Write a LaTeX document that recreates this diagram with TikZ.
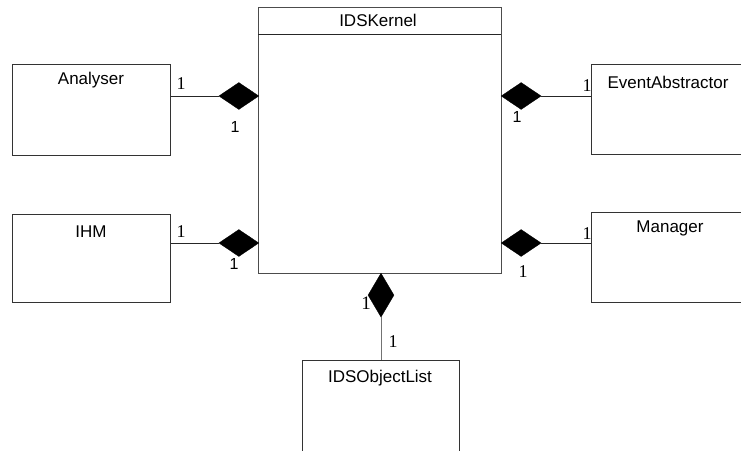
\documentclass[tikz,border=0pt]{standalone}
\usepackage{fontspec}
\setmainfont{Liberation Sans}
\newfontfamily\serifone{Liberation Serif}
\usetikzlibrary{shapes.geometric}
\begin{document}
\begin{tikzpicture}[x=1pt,y=-1pt,
  box/.style={draw=black!80, line width=0.9pt, rectangle, inner sep=0pt, anchor=north west},
  title/.style={font=\fontsize{17}{17}\selectfont, inner sep=0pt},
  dia/.style={diamond, fill=black, draw=black, inner sep=0pt, line width=0.3pt},
  hdia/.style={dia, minimum width=40pt, minimum height=27pt},
  vdia/.style={dia, minimum width=26pt, minimum height=44pt},
  link/.style={draw=black!85, line width=0.9pt},
  mserif/.style={font=\serifone\fontsize{18}{18}\selectfont, inner sep=0pt},
  mserifb/.style={font=\serifone\fontsize{19}{19}\selectfont, inner sep=0pt},
  msans/.style={font=\fontsize{16}{16}\selectfont, inner sep=0pt}]
\path[use as bounding box, clip] (0,0) rectangle (741,450);
\fill[white] (0,0) rectangle (741,450);
% kernel
\node[box, draw=black!70, minimum width=243pt, minimum height=266pt] (kernel) at (258,7) {};
\coordinate (hl) at (258,34);
\coordinate (hr) at (501,34);
\draw[link] (hl) -- (hr);
\node[title] (kt) at (378,20) {IDSKernel};
% boxes
\node[box, minimum width=158pt, minimum height=91pt] (ana) at (12,64) {};
\node[title] (anat) at (91,80) {Analyser};
\node[box, minimum width=170pt, minimum height=90pt] (evt) at (591,64) {};
\node[title] (evtt) at (668,82) {EventAbstractor};
\node[box, minimum width=158pt, minimum height=88pt] (ihm) at (12,214) {};
\node[title] (ihmt) at (91,232) {IHM};
\node[box, minimum width=170pt, minimum height=90pt] (man) at (591,212) {};
\node[title] (mant) at (670,228) {Manager};
\node[box, minimum width=157pt, minimum height=100pt] (obj) at (302,360) {};
\node[title] (objt) at (380,378) {IDSObjectList};
% diamonds
\node[hdia, anchor=east] (d1) at (259,96) {};
\node[hdia, anchor=west] (d2) at (501,96) {};
\node[hdia, anchor=east] (d3) at (259,243) {};
\node[hdia, anchor=west] (d4) at (501,243) {};
\node[vdia, anchor=north] (d5) at (381,273) {};
% links
\draw[link] (d1.west) -- (ana.east |- d1.west);
\draw[link] (d2.east) -- (evt.west |- d2.east);
\draw[link] (d3.west) -- (ihm.east |- d3.west);
\draw[link] (d4.east) -- (man.west |- d4.east);
\draw[link, draw=black!55] (d5.south) -- (d5.south |- obj.north);
% multiplicities
\node[mserif] (m1) at (181,84) {1};
\node[msans] (m2) at (235,127) {1};
\node[mserif] (m3) at (587,86) {1};
\node[msans] (m4) at (517,117) {1};
\node[mserif] (m5) at (181,232) {1};
\node[msans] (m6) at (234,264) {1};
\node[mserif] (m7) at (587,234) {1};
\node[mserif] (m8) at (523,272) {1};
\node[mserifb] (m9) at (366,303) {1};
\node[mserif] (m10) at (393,342) {1};
\end{tikzpicture}
\end{document}
